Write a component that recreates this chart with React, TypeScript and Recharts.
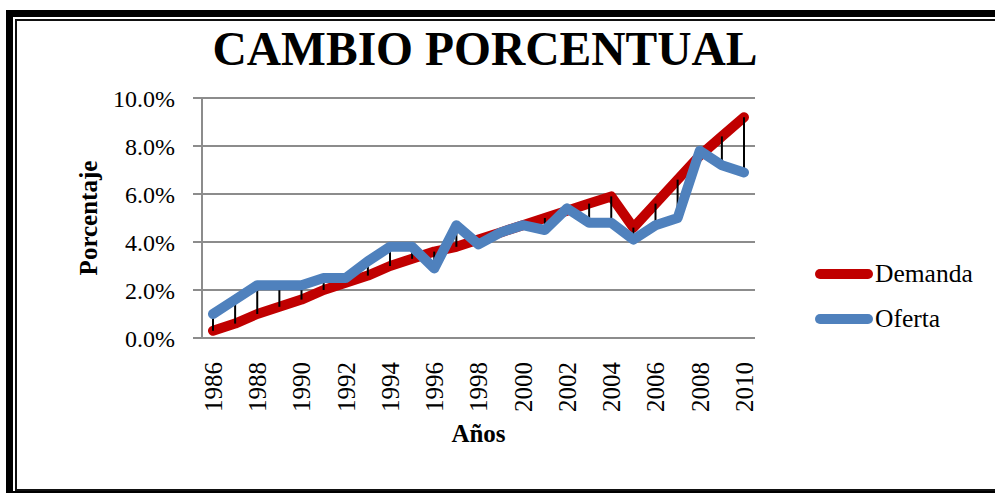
import React from 'react';
import {
  ComposedChart,
  Line,
  ErrorBar,
  XAxis,
  YAxis,
  CartesianGrid,
  Legend,
  Label,
} from 'recharts';

const years = [
  '1986', '1987', '1988', '1989', '1990', '1991', '1992', '1993', '1994',
  '1995', '1996', '1997', '1998', '1999', '2000', '2001', '2002', '2003',
  '2004', '2005', '2006', '2007', '2008', '2009', '2010',
];
const demanda = [
  0.3, 0.6, 1.0, 1.3, 1.6, 2.0, 2.3, 2.6, 3.0, 3.3, 3.6, 3.8, 4.1,
  4.4, 4.7, 5.0, 5.3, 5.6, 5.9, 4.6, 5.6, 6.6, 7.6, 8.4, 9.2,
];
const oferta = [
  1.0, 1.6, 2.2, 2.2, 2.2, 2.5, 2.5, 3.2, 3.8, 3.8, 2.9, 4.7, 3.9,
  4.4, 4.7, 4.5, 5.4, 4.8, 4.8, 4.1, 4.7, 5.0, 7.8, 7.2, 6.9,
];
const yTicks = [0, 2, 4, 6, 8, 10];

const SERIF = '"Liberation Serif", "Times New Roman", serif';
const RED = '#C00000';
const BLUE = '#4F81BD';
const GRID = '#8C8C8C';

// high-low lines: from Oferta down/up to Demanda
const data = years.map((year, i) => ({
  year,
  Demanda: demanda[i],
  Oferta: oferta[i],
  hilo: [Math.max(0, oferta[i] - demanda[i]), Math.max(0, demanda[i] - oferta[i])],
}));

function YearTick({ x, y, payload }: any) {
  return (
    <text
      x={x}
      y={y + 16}
      transform={`rotate(-90, ${x}, ${y + 16})`}
      textAnchor="end"
      dy="0.35em"
      fontFamily={SERIF}
      fontSize={25}
      fill="#000"
    >
      {payload.value}
    </text>
  );
}

function LegendBox({ payload }: any) {
  const items = (payload || []).filter((p: any) => p.type !== 'none');
  return (
    <div style={{ fontFamily: SERIF, fontSize: 25.5, color: '#000' }}>
      {items.map((p: any) => (
        <div key={p.value} style={{ display: 'flex', alignItems: 'center', height: 45 }}>
          <span
            style={{
              display: 'inline-block',
              width: 58,
              height: 10,
              borderRadius: 5,
              background: p.color,
              marginRight: 2,
            }}
          />
          <span>{p.value}</span>
        </div>
      ))}
    </div>
  );
}

export default function App() {
  return (
    <div
      style={{
        position: 'absolute',
        left: 0,
        top: 0,
        width: 995,
        height: 493,
        overflow: 'hidden',
        background: '#fff',
      }}
    >
      <div
        style={{
          position: 'absolute',
          left: 0,
          top: 34,
          width: 970,
          textAlign: 'center',
          fontFamily: SERIF,
          fontWeight: 'bold',
          fontSize: 47.5,
          lineHeight: '30px',
        }}
      >
        CAMBIO PORCENTUAL
      </div>
      <ComposedChart
        width={995}
        height={493}
        data={data}
        margin={{ top: 98, right: 65, bottom: 35, left: 102 }}
      >
        <CartesianGrid horizontal vertical={false} stroke={GRID} strokeWidth={2} />
        <XAxis
          dataKey="year"
          interval={1}
          padding={{ left: 11, right: 11 }}
          tick={<YearTick />}
          tickLine={false}
          axisLine={{ stroke: GRID, strokeWidth: 2 }}
          height={120}
        >
          <Label
            content={({ viewBox }: any) => (
              <text
                x={viewBox.x + viewBox.width / 2}
                y={442}
                textAnchor="middle"
                fontFamily={SERIF}
                fontWeight="bold"
                fontSize={25}
                fill="#000"
              >
                Años
              </text>
            )}
          />
        </XAxis>
        <YAxis
          width={100}
          domain={[0, 10]}
          ticks={yTicks}
          interval={0}
          tickFormatter={(v: number) => `${v.toFixed(1)}%`}
          tick={{ fontFamily: SERIF, fontSize: 24, fill: '#000' }}
          tickSize={9}
          tickMargin={18}
          tickLine={{ stroke: GRID, strokeWidth: 2 }}
          axisLine={{ stroke: GRID, strokeWidth: 2 }}
        >
          <Label
            content={({ viewBox }: any) => {
              const cy = viewBox.y + viewBox.height / 2;
              return (
                <text
                  x={88}
                  y={cy}
                  transform={`rotate(-90, 88, ${cy})`}
                  textAnchor="middle"
                  dy="0.35em"
                  fontFamily={SERIF}
                  fontWeight="bold"
                  fontSize={25}
                  fill="#000"
                >
                  Porcentaje
                </text>
              );
            }}
          />
        </YAxis>
        <Legend
          layout="vertical"
          align="right"
          verticalAlign="top"
          content={<LegendBox />}
          wrapperStyle={{ position: 'absolute', left: 815, top: 251, width: 175 }}
        />
        <Line
          dataKey="Demanda"
          stroke={RED}
          strokeWidth={10}
          strokeLinecap="round"
          strokeLinejoin="round"
          dot={false}
          activeDot={false}
          isAnimationActive={false}
        />
        <Line
          dataKey="Oferta"
          stroke={BLUE}
          strokeWidth={10}
          strokeLinecap="round"
          strokeLinejoin="round"
          dot={false}
          activeDot={false}
          isAnimationActive={false}
        >
          <ErrorBar
            dataKey="hilo"
            direction="y"
            width={0}
            stroke="#000"
            strokeWidth={2}
            isAnimationActive={false}
          />
        </Line>
      </ComposedChart>
      <div
        style={{
          position: 'absolute',
          left: 6,
          top: 10,
          width: 1010,
          height: 488,
          border: '7px solid #000',
          boxSizing: 'border-box',
          pointerEvents: 'none',
        }}
      />
      <div
        style={{
          position: 'absolute',
          left: 15,
          top: 19,
          width: 1000,
          height: 472,
          border: '2px solid #111',
          boxSizing: 'border-box',
          pointerEvents: 'none',
        }}
      />
    </div>
  );
}
